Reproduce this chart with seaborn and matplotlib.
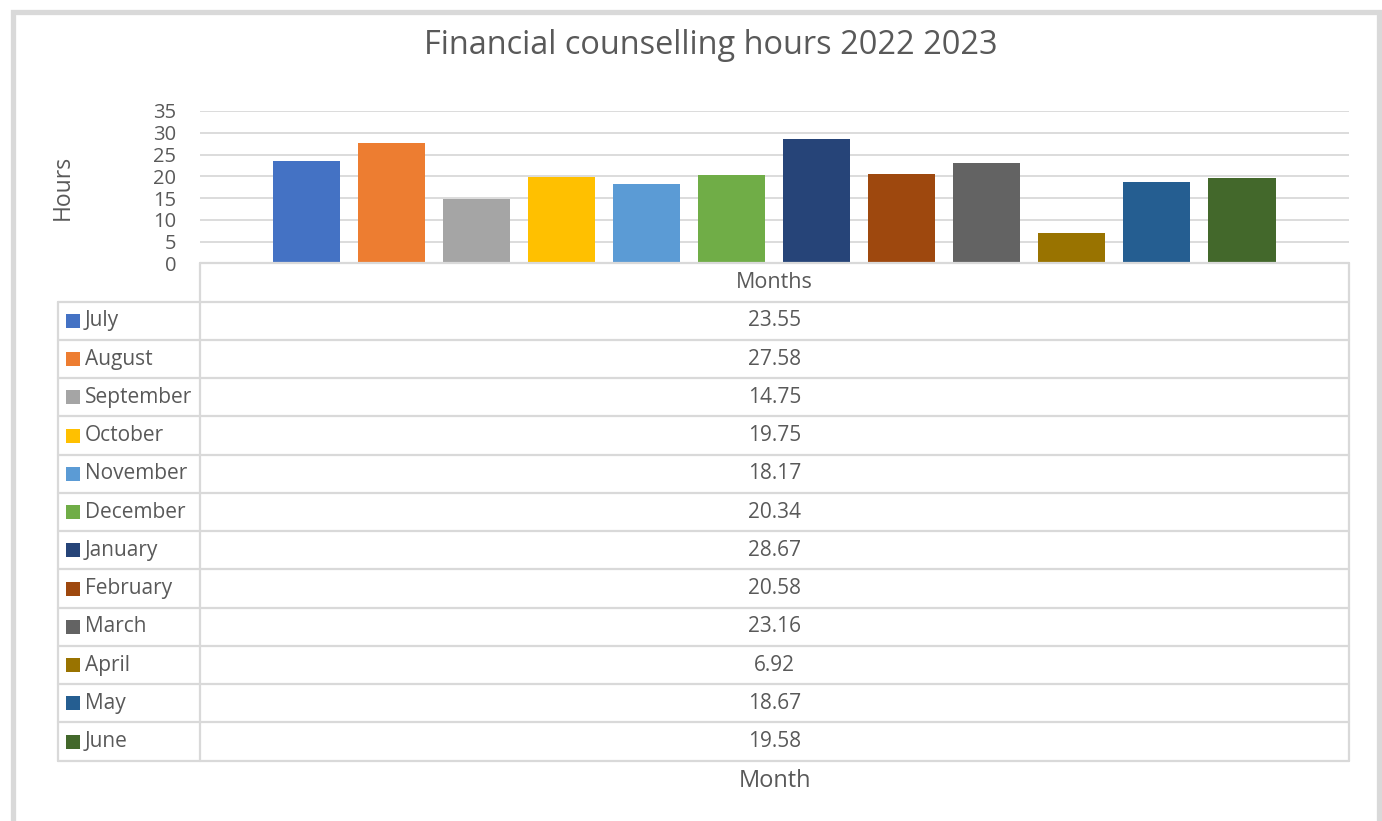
import matplotlib
matplotlib.use("Agg")
import matplotlib.pyplot as plt
from matplotlib.patches import Rectangle
import pandas as pd
import seaborn as sns

months = ["July", "August", "September", "October", "November", "December",
          "January", "February", "March", "April", "May", "June"]
hours = [23.55, 27.58, 14.75, 19.75, 18.17, 20.34, 28.67, 20.58, 23.16, 6.92, 18.67, 19.58]
colors = ["#4472C4", "#ED7D31", "#A5A5A5", "#FFC000", "#5B9BD5", "#70AD47",
          "#264478", "#9E480E", "#636363", "#997300", "#255E91", "#43682B"]
y_ticks = [0, 5, 10, 15, 20, 25, 30, 35]

TEXT = "#595959"
GRID = "#D9D9D9"
W, H = 1382, 821

sns.set_theme(style="white")
plt.rcParams["font.family"] = ["Open Sans", "DejaVu Sans"]

fig = plt.figure(figsize=(W / 100, H / 100), dpi=100)
fig.patch.set_facecolor("white")


def fx(px):
    return px / W


def fy(py):
    return 1 - py / H


# chart frame
fig.add_artist(Rectangle((fx(12.5), fy(830)), fx(1379) - fx(12.5), fy(12.5) - fy(830),
                         transform=fig.transFigure, fill=False, edgecolor=GRID,
                         linewidth=3.8, clip_on=False))

# bar plot area
plot_l, plot_r, plot_t, plot_b = 200, 1349, 111, 263.3
ax = fig.add_axes([fx(plot_l), fy(plot_b), fx(plot_r) - fx(plot_l), fy(plot_t) - fy(plot_b)])
df = pd.DataFrame({"month": months, "hours": hours})
sns.barplot(data=df, x="month", y="hours", hue="month", order=months, hue_order=months,
            palette=colors, saturation=1, width=0.79, legend=False, linewidth=0, ax=ax)
ax.set_xlim(-1.253, 12.259)
ax.set_ylim(0, 35)
ax.set_yticks(y_ticks)
ax.set_yticklabels([str(t) for t in y_ticks], fontsize=14.5, color=TEXT)
ax.tick_params(axis="y", length=0, pad=17)
ax.set_xticks([])
ax.set_xlabel("")
ax.set_ylabel("")
for t in y_ticks[1:]:
    ax.axhline(t, color=GRID, linewidth=1.3, zorder=0)
for s in ax.spines.values():
    s.set_visible(False)
ax.set_facecolor("none")

fig.text(fx(711), fy(45), "Financial counselling hours 2022 2023", ha="center", va="center",
         fontsize=23.4, color=TEXT)
fig.text(fx(63), fy(187), "Hours", ha="center", va="center", rotation=90,
         fontsize=16.5, color=TEXT)
fig.text(fx(775), fy(781), "Month", ha="center", va="center", fontsize=17, color=TEXT)

# data table
tl, tr, tt, tb = 58, 1349, 263.3, 760.7
row_top = 301.7
row_h = (tb - row_top) / len(months)
tax = fig.add_axes([fx(tl), fy(tb), fx(tr) - fx(tl), fy(tt) - fy(tb)])
tax.set_xlim(tl, tr)
tax.set_ylim(tb, tt)
tax.axis("off")
lw = 1.6
tax.plot([200, tr], [tt, tt], color=GRID, lw=lw, clip_on=False)
tax.plot([200, 200], [tt, tb], color=GRID, lw=lw, clip_on=False)
tax.plot([tr, tr], [tt, tb], color=GRID, lw=lw, clip_on=False)
tax.plot([tl, tl], [row_top, tb], color=GRID, lw=lw, clip_on=False)
for i in range(len(months) + 1):
    y = row_top + i * row_h
    tax.plot([tl, tr], [y, y], color=GRID, lw=lw, clip_on=False)
tax.text((200 + tr) / 2, (tt + row_top) / 2, "Months", ha="center", va="center",
         fontsize=15.5, color=TEXT)
for i, (m, v, c) in enumerate(zip(months, hours, colors)):
    yc = row_top + (i + 0.5) * row_h
    tax.add_patch(Rectangle((66, yc - 7), 14, 14, facecolor=c, edgecolor="none"))
    tax.text(85, yc, m, ha="left", va="center", fontsize=15, color=TEXT)
    tax.text((200 + tr) / 2, yc, f"{v:.2f}", ha="center", va="center",
             fontsize=15, color=TEXT)

fig.savefig("out.png", dpi=100)
